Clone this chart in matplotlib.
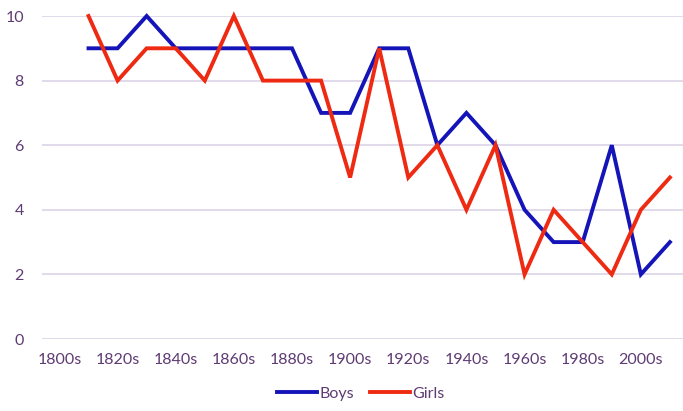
import matplotlib
matplotlib.use("Agg")
import matplotlib.pyplot as plt

decades = [f"{y}s" for y in range(1800, 2020, 10)]
boys = [None, 9, 9, 10, 9, 9, 9, 9, 9, 7, 7, 9, 9, 6, 7, 6, 4, 3, 3, 6, 2, 3]
girls = [None, 10, 8, 9, 9, 8, 10, 8, 8, 8, 5, 9, 5, 6, 4, 6, 2, 4, 3, 2, 4, 5]

plt.rcParams['font.family'] = ['Lato', 'DejaVu Sans']
txt = '#5E3B73'
grid = '#DCD3E8'

fig = plt.figure(figsize=(6.83, 4.11), dpi=100)
ax = fig.add_axes([42/683, (411-339)/411, 1 - 42/683, (339-16)/411])

x = list(range(len(decades)))
bx = [i for i, v in zip(x, boys) if v is not None]
bv = [v for v in boys if v is not None]
gx = [i for i, v in zip(x, girls) if v is not None]
gv = [v for v in girls if v is not None]
ax.plot(bx, bv, color='#1414B8', lw=2.8, label='Boys', clip_on=False, solid_joinstyle='miter', zorder=3)
ax.plot(gx, gv, color='#EE2A12', lw=2.8, label='Girls', clip_on=False, solid_joinstyle='miter', zorder=4)

ax.set_xlim(-0.6, 21.45)
ax.set_ylim(0, 10)
ax.set_yticks(range(0, 11, 2))
ax.set_xticks(x[::2])
ax.set_xticklabels(decades[::2])
ax.grid(axis='y', color=grid, lw=1.2)
ax.set_axisbelow(True)
for s in ax.spines.values():
    s.set_visible(False)
ax.tick_params(length=0, labelsize=11.5, colors=txt)
ax.tick_params(axis='x', pad=10)
ax.tick_params(axis='y', pad=13)

leg = fig.legend(loc='lower center', bbox_to_anchor=(0.528, -0.01), ncol=2, frameon=False,
                 fontsize=11.5, handlelength=2.5, handletextpad=0.15, columnspacing=1.0)
for t in leg.get_texts():
    t.set_color(txt)

fig.savefig('out.png', dpi=100)
